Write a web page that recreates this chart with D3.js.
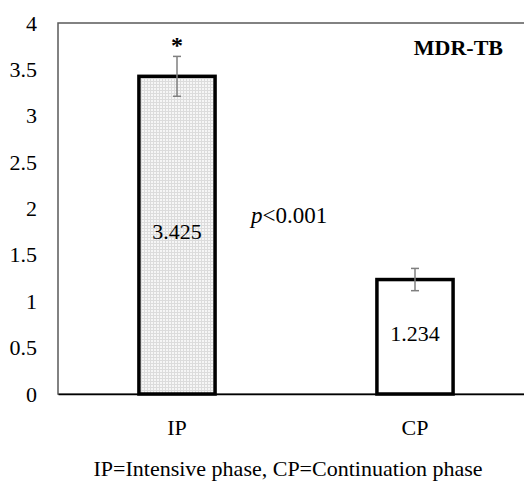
<!DOCTYPE html>
<html>
<head>
<meta charset="utf-8">
<script src="https://cdn.jsdelivr.net/npm/d3@7"></script>
<style>
  body { margin: 0; background: #fff; }
  svg text { font-family: "Liberation Serif", "Times New Roman", Times, serif; fill: #000; }
</style>
</head>
<body>
<script>
const width = 524
const height = 484
// plot area runs past the right edge of the picture, as in the original figure
const margin = { top: 23, right: -10, bottom: 90, left: 58 }
const fontSize = 22

const phases = ['IP', 'CP']
const means = [3.425, 1.234]
const errors = [0.215, 0.12]
const yTicks = [0, 0.5, 1, 1.5, 2, 2.5, 3, 3.5, 4]
const caption = 'IP=Intensive phase, CP=Continuation phase'

const data = phases.map((p, i) => ({ phase: p, value: means[i], err: errors[i] }))

const svg = d3.select('body').append('svg')
    .attr('width', width)
    .attr('height', height)

// fine grey grid fill for the IP bar
const defs = svg.append('defs')
const pat = defs.append('pattern')
    .attr('id', 'grid')
    .attr('width', 3)
    .attr('height', 3)
    .attr('patternUnits', 'userSpaceOnUse')
pat.append('rect').attr('width', 3).attr('height', 3).attr('fill', '#f6f6f6')
pat.append('path').attr('d', 'M0,0.5H3M0.5,0V3').attr('stroke', '#dcdcdc').attr('stroke-width', 1)

const xScale = d3.scaleBand()
    .domain(phases)
    .range([margin.left, width - margin.right])
    .paddingInner(0.68)
    .paddingOuter(0.34)

const yScale = d3.scaleLinear()
    .domain([0, 4])
    .range([height - margin.bottom, margin.top])

const cx = d => xScale(d.phase) + xScale.bandwidth() / 2

// frame
svg.append('rect')
    .attr('x', margin.left)
    .attr('y', margin.top)
    .attr('width', width - margin.right - margin.left)
    .attr('height', yScale(0) - margin.top)
    .attr('fill', 'none')
    .attr('stroke', '#5a5a5a')
    .attr('stroke-width', 1.5)

const yAxis = d3.axisLeft(yScale)
    .tickValues(yTicks)
    .tickSize(0)
    .tickPadding(21)
    .tickFormat(d3.format(''))

svg.append('g')
    .attr('transform', 'translate(' + margin.left + ',0)')
    .call(yAxis)
    .attr('font-family', null)
    .attr('font-size', fontSize)
    .call(g => g.select('.domain').remove())

const xAxis = d3.axisBottom(xScale)
    .tickSize(0)
    .tickPadding(25)

svg.append('g')
    .attr('transform', 'translate(0,' + yScale(0) + ')')
    .call(xAxis)
    .attr('font-family', null)
    .attr('font-size', fontSize)
    .call(g => g.select('.domain').attr('stroke', '#000').attr('stroke-width', 1.5))

// bars
svg.selectAll('.bar')
    .data(data)
    .join('rect')
    .attr('class', 'bar')
    .attr('x', d => xScale(d.phase))
    .attr('y', d => yScale(d.value))
    .attr('width', xScale.bandwidth())
    .attr('height', d => yScale(0) - yScale(d.value))
    .attr('fill', (d, i) => i == 0 ? 'url(#grid)' : '#fff')
    .attr('stroke', '#000')
    .attr('stroke-width', 3.5)

// error bars
const eb = svg.selectAll('.err')
    .data(data)
    .join('g')
    .attr('class', 'err')
    .attr('stroke', '#7f7f7f')
    .attr('stroke-width', 1.5)
eb.append('line')
    .attr('x1', cx)
    .attr('x2', cx)
    .attr('y1', d => yScale(d.value + d.err))
    .attr('y2', d => yScale(d.value - d.err))
eb.selectAll('.cap')
    .data(d => [d.value + d.err, d.value - d.err].map(v => ({ phase: d.phase, v })))
    .join('line')
    .attr('class', 'cap')
    .attr('x1', d => cx(d) - 4)
    .attr('x2', d => cx(d) + 4)
    .attr('y1', d => yScale(d.v))
    .attr('y2', d => yScale(d.v))

// value labels inside the bars
svg.selectAll('.val')
    .data(data)
    .join('text')
    .attr('class', 'val')
    .attr('x', cx)
    .attr('y', d => yScale(d.value / 2) + 4)
    .attr('text-anchor', 'middle')
    .attr('font-size', fontSize)
    .text(d => d3.format('.3f')(d.value))

// significance star above IP
svg.append('text')
    .attr('x', cx(data[0]))
    .attr('y', yScale(data[0].value + data[0].err) - 3)
    .attr('text-anchor', 'middle')
    .attr('font-size', 24)
    .attr('font-weight', 'bold')
    .text('*')

svg.append('text')
    .attr('x', 251)
    .attr('y', yScale(1.84))
    .attr('font-size', 23)
    .html('<tspan font-style="italic">p</tspan>&lt;0.001')

svg.append('text')
    .attr('x', 503)
    .attr('y', 55)
    .attr('text-anchor', 'end')
    .attr('font-size', fontSize)
    .attr('font-weight', 'bold')
    .text('MDR-TB')

svg.append('text')
    .attr('x', 288)
    .attr('y', 476)
    .attr('text-anchor', 'middle')
    .attr('font-size', fontSize)
    .text(caption)
</script>
</body>
</html>
